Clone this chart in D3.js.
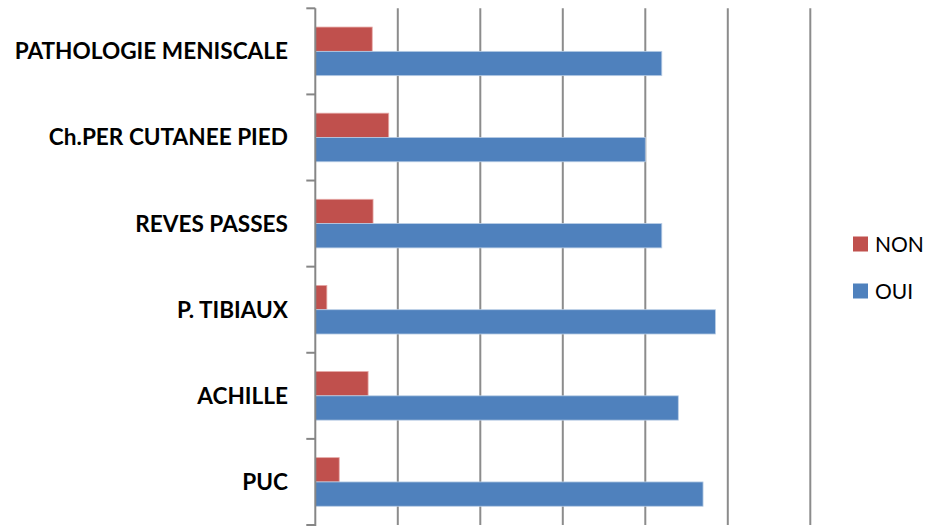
<!DOCTYPE html>
<html>
<head>
<meta charset="utf-8">
<script src="https://cdn.jsdelivr.net/npm/d3@7"></script>
<style>
  body { margin: 0; background: #fff; }
  svg { display: block; }
</style>
</head>
<body>
<div id="chart"></div>
<script>
var categories = ['PATHOLOGIE MENISCALE', 'Ch.PER CUTANEE PIED', 'REVES PASSES', 'P. TIBIAUX', 'ACHILLE', 'PUC'];
var seriesNames = ['NON', 'OUI'];
var nonValues = [6.9, 8.9, 7, 1.4, 6.4, 2.9];
var ouiValues = [42, 40, 42, 48.5, 44, 47];
var xTicks = [0, 10, 20, 30, 40, 50, 60];
var colors = ['#C0504D', '#4F81BD'];
var edgeColors = ['#e6a9a7', '#b9cde5'];

var width = 928;
var height = 526;
var plotLeft = 315.3;
var plotRight = 810.3;
var plotTop = 8.3;
var plotBottom = 525;
var labelFont = 'Lato, "Open Sans", sans-serif';

window.onload = function() {
    var svg = d3.select('#chart').append('svg')
        .attr('width', width)
        .attr('height', height);

    var x = d3.scaleLinear()
        .domain([0, 60])
        .range([plotLeft, plotRight]);

    var pad = 0.4355;
    var y = d3.scaleBand()
        .domain(categories)
        .range([plotTop, plotBottom])
        .paddingInner(pad)
        .paddingOuter(pad / 2);

    var sub = d3.scaleBand()
        .domain(seriesNames)
        .range([0, y.bandwidth()]);

    // vertical gridlines
    svg.append('g')
        .selectAll('line')
        .data(xTicks.slice(1))
        .join('line')
        .attr('x1', function(d) { return x(d); })
        .attr('x2', function(d) { return x(d); })
        .attr('y1', plotTop)
        .attr('y2', plotBottom)
        .attr('stroke', '#8c8c8c')
        .attr('stroke-width', 2);

    // bars
    var series = [nonValues, ouiValues];
    for (var s = 0; s < series.length; s++) {
        svg.append('g')
            .selectAll('rect')
            .data(series[s])
            .join('rect')
            .attr('x', x(0))
            .attr('y', function(d, i) { return y(categories[i]) + sub(seriesNames[s]); })
            .attr('width', function(d) { return x(d) - x(0); })
            .attr('height', sub.bandwidth())
            .attr('fill', colors[s])
            .attr('stroke', edgeColors[s])
            .attr('stroke-width', 0.8);
    }

    // category axis with ticks at band boundaries
    var step = y.step();
    var boundaries = categories.map(function(c) { return y(c) - step * pad / 2; });
    boundaries.push(plotBottom);

    var yAxis = svg.append('g');
    yAxis.append('line')
        .attr('x1', plotLeft).attr('x2', plotLeft)
        .attr('y1', plotTop).attr('y2', plotBottom + 1)
        .attr('stroke', '#868686')
        .attr('stroke-width', 2);
    yAxis.selectAll('line.tick')
        .data(boundaries)
        .join('line')
        .attr('class', 'tick')
        .attr('x1', plotLeft - 9)
        .attr('x2', plotLeft)
        .attr('y1', function(d) { return d; })
        .attr('y2', function(d) { return d; })
        .attr('stroke', '#868686')
        .attr('stroke-width', 2);

    // category labels
    svg.append('g')
        .selectAll('text')
        .data(categories)
        .join('text')
        .attr('x', 288)
        .attr('y', function(d) { return y(d) + y.bandwidth() / 2; })
        .attr('dy', '0.35em')
        .attr('text-anchor', 'end')
        .style('font-family', labelFont)
        .style('font-weight', 'bold')
        .style('font-size', '22.6px')
        .style('fill', '#000')
        .text(function(d) { return d; });

    // legend
    var legendY = [244, 291];
    var legend = svg.append('g');
    seriesNames.forEach(function(name, i) {
        legend.append('rect')
            .attr('x', 853)
            .attr('y', legendY[i] - 7.5)
            .attr('width', 15)
            .attr('height', 15)
            .attr('fill', colors[i]);
        legend.append('text')
            .attr('x', 875)
            .attr('y', legendY[i])
            .attr('dy', '0.36em')
            .style('font-family', labelFont)
            .style('font-size', '21px')
            .style('fill', '#000')
            .text(name);
    });
}
</script>
</body>
</html>
